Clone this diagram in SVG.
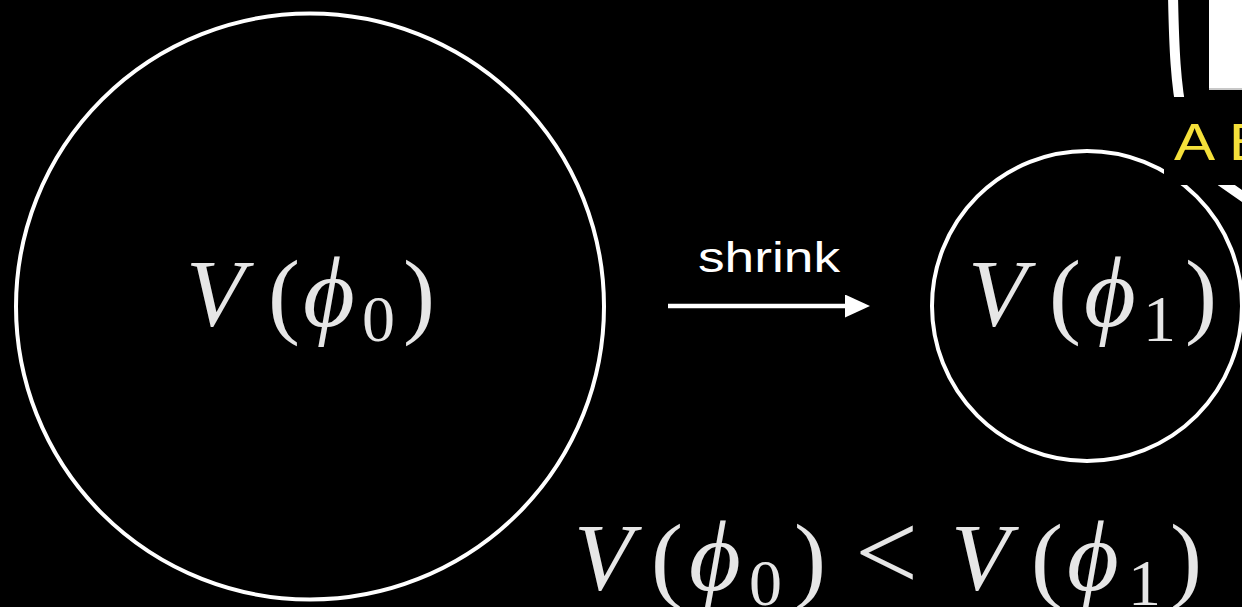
<svg xmlns="http://www.w3.org/2000/svg" width="1242" height="607" viewBox="0 0 1242 607">
<style>
.ring{fill:none;stroke:#fff;stroke-width:4}
.m{font-family:"Liberation Serif","DejaVu Serif",serif;fill:#e6e6e6;font-size:96px}
.it{font-style:italic}
.ph{font-style:italic;font-size:100px}
.sub{font-size:66px}
.lt{font-size:112px}
.lbl{font-family:"Liberation Sans",Arial,sans-serif;fill:#fff;font-size:43px}
.yel{font-family:"Liberation Sans",Arial,sans-serif;fill:#f5e03a;font-size:51px}
</style>
<defs>
<marker id="ah" markerUnits="userSpaceOnUse" markerWidth="26" markerHeight="24" refX="1" refY="11.5" orient="auto">
<path d="M0,0 L25,11.5 L0,23 z" fill="#fff"/>
</marker>
</defs>
<rect width="1242" height="607" fill="#000"/>
<g id="bracket-shape">
<path d="M1173,-5 C1175,100 1180,150 1222,182 L1262,210" fill="none" stroke="#fff" stroke-width="10"/>
</g>
<g id="node-v0">
<ellipse class="ring" cx="310" cy="306.5" rx="294" ry="293"/>
<text class="m" y="326"><tspan class="it" x="186">V</tspan><tspan x="268">(</tspan><tspan class="ph" x="303">ϕ</tspan><tspan class="sub" x="362" dy="15">0</tspan><tspan x="403" dy="-15">)</tspan></text>
</g>
<g id="node-v1">
<circle class="ring" cx="1087" cy="306" r="155"/>
<text class="m" y="326"><tspan class="it" x="968">V</tspan><tspan x="1049">(</tspan><tspan class="ph" x="1084">ϕ</tspan><tspan class="sub" x="1143" dy="15">1</tspan><tspan x="1185" dy="-15">)</tspan></text>
</g>
<g id="top-right-card">
<rect x="1209" y="-2" width="40" height="90" fill="#fff"/>
<line x1="1209" y1="89" x2="1242" y2="89" stroke="#c8c8c8" stroke-width="2"/>
<rect x="1164" y="97" width="80" height="88" fill="#000"/>
<text class="yel" x="1174" y="160" textLength="96" lengthAdjust="spacingAndGlyphs">A B</text>
</g>
<g id="connectors">
<line x1="668" y1="306" x2="846" y2="306" stroke="#fff" stroke-width="4.5" marker-end="url(#ah)"/>
<text class="lbl" x="698" y="272" textLength="142" lengthAdjust="spacingAndGlyphs">shrink</text>
</g>
<g id="inequality">
<text class="m" y="590"><tspan class="it" x="574">V</tspan><tspan x="651">(</tspan><tspan class="ph" x="689">ϕ</tspan><tspan class="sub" x="749" dy="15">0</tspan><tspan x="794" dy="-15">)</tspan><tspan class="lt" x="855">&lt;</tspan><tspan class="it" x="951">V</tspan><tspan x="1031">(</tspan><tspan class="ph" x="1067">ϕ</tspan><tspan class="sub" x="1128" dy="15">1</tspan><tspan x="1170" dy="-15">)</tspan></text>
</g>
</svg>
